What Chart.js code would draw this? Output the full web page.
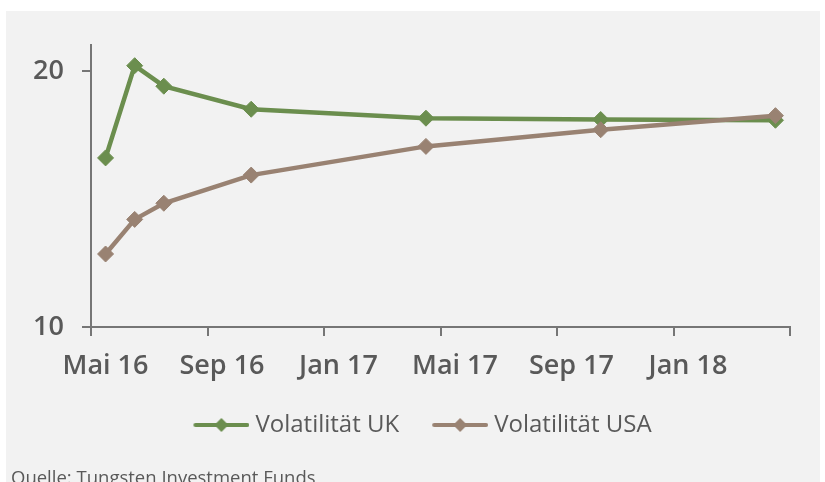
<!DOCTYPE html>
<html>
<head>
<meta charset="utf-8">
<script src="https://cdn.jsdelivr.net/npm/chart.js@4"></script>
<style>
  body { margin: 0; background: #fff; width: 825px; height: 482px; overflow: hidden; position: relative; }
  #panel { position: absolute; left: 6px; top: 11px; width: 814px; height: 471px; background: #f2f2f2; }
  #source { position: absolute; left: 5px; top: 453px; font: 18.5px 'Open Sans', sans-serif; color: #595959; white-space: nowrap; }
</style>
</head>
<body>
<div id="panel">
  <canvas id="volChart" width="814" height="471"></canvas>
  <div id="source">Quelle: Tungsten Investment Funds</div>
</div>
<script>
// --- data ---
const startMonth = '2016-05';
const dates = ['2016-05', '2016-06', '2016-07', '2016-10', '2017-04', '2017-10', '2018-04'];
const volUK = [16.6, 20.2, 19.4, 18.5, 18.15, 18.1, 18.07];
const volUSA = [12.85, 14.2, 14.83, 15.93, 17.05, 17.7, 18.25];
const tickLabels = ['Mai 16', 'Sep 16', 'Jan 17', 'Mai 17', 'Sep 17', 'Jan 18', ''];
const yTicks = [10, 20];

const GREEN = '#6b8e4e';
const TAUPE = '#998272';
const AXIS = '#767676';
const TEXT = '#595959';

// months since start, placed mid-month (date axis, labels between tick marks)
function monthIndex(d) {
    const [y0, m0] = startMonth.split('-').map(Number);
    const [y, m] = d.split('-').map(Number);
    return (y - y0) * 12 + (m - m0) + 0.5;
}
const toPoints = arr => arr.map((v, i) => ({ x: monthIndex(dates[i]), y: v }));

// legend icon: line with diamond, drawn in the right part of a wider canvas
// so the gap before the next item is bigger than the gap before the text
function legendIcon(color) {
    const c = document.createElement('canvas');
    c.width = 85; c.height = 16;
    const g = c.getContext('2d');
    g.strokeStyle = color; g.lineWidth = 4; g.lineCap = 'round';
    g.beginPath(); g.moveTo(31, 8); g.lineTo(83, 8); g.stroke();
    g.fillStyle = color;
    g.beginPath(); g.moveTo(57, 1); g.lineTo(64, 8); g.lineTo(57, 15); g.lineTo(50, 8); g.closePath(); g.fill();
    return c;
}
const icons = [legendIcon(GREEN), legendIcon(TAUPE)];

const legendShift = {
    id: 'legendShift',
    afterLayout(chart, args, opts) {
        chart.legend.left += opts.dx;
        chart.legend.right += opts.dx;
    }
};

const ctx = document.getElementById('volChart').getContext('2d');
new Chart(ctx, {
    type: 'line',
    data: {
        datasets: [{
            label: 'Volatilität UK',
            data: toPoints(volUK),
            borderColor: GREEN,
            backgroundColor: GREEN,
            borderWidth: 4.5,
            pointStyle: 'rectRot',
            pointRadius: 8,
            pointBorderWidth: 1,
            order: 1
        }, {
            label: 'Volatilität USA',
            data: toPoints(volUSA),
            borderColor: TAUPE,
            backgroundColor: TAUPE,
            borderWidth: 4.5,
            pointStyle: 'rectRot',
            pointRadius: 8,
            pointBorderWidth: 1,
            order: 0
        }]
    },
    plugins: [legendShift],
    options: {
        responsive: false,
        animation: false,
        layout: { padding: { top: 32, right: 30, left: 0, bottom: 35 } },
        plugins: {
            legendShift: { dx: 13 },
            tooltip: { enabled: false },
            legend: {
                position: 'bottom',
                labels: {
                    usePointStyle: true,
                    pointStyleWidth: 73,
                    padding: 10,
                    color: TEXT,
                    font: { family: 'Open Sans', size: 24 },
                    sort: (a, b) => a.datasetIndex - b.datasetIndex,
                    generateLabels: chart => Chart.defaults.plugins.legend.labels.generateLabels(chart)
                        .map(item => ({ ...item, pointStyle: icons[item.datasetIndex] }))
                }
            }
        },
        scales: {
            x: {
                type: 'linear',
                min: 0,
                max: 24,
                afterFit: s => { s.height = 76; },
                border: { color: AXIS, width: 2 },
                grid: { drawOnChartArea: false, color: AXIS, lineWidth: 2, tickLength: 9 },
                ticks: {
                    stepSize: 4,
                    labelOffset: 14.5,
                    padding: 14,
                    maxRotation: 0,
                    color: TEXT,
                    font: { family: 'Open Sans', size: 27, weight: '600' },
                    callback: (v, i) => tickLabels[i]
                }
            },
            y: {
                min: 10,
                max: 21,
                afterFit: s => { s.width = 85; },
                afterBuildTicks: s => { s.ticks = yTicks.map(v => ({ value: v })); },
                border: { color: AXIS, width: 2 },
                grid: { drawOnChartArea: false, color: AXIS, lineWidth: 2, tickLength: 9 },
                ticks: {
                    padding: 18,
                    color: TEXT,
                    font: { family: 'Open Sans', size: 27, weight: '600' }
                }
            }
        }
    }
});
</script>
</body>
</html>
